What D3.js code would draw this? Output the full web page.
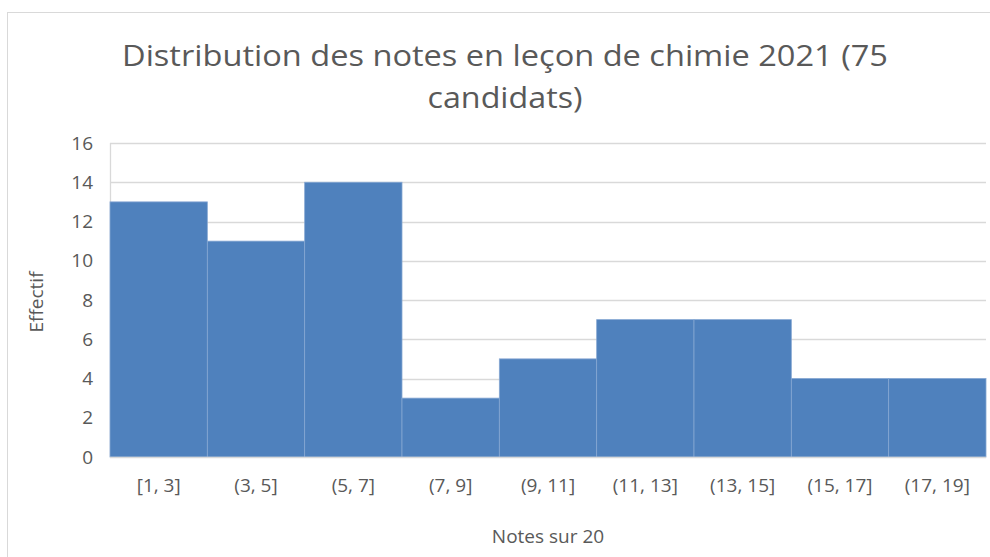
<!DOCTYPE html>
<html><head><meta charset="utf-8">
<script src="https://cdn.jsdelivr.net/npm/d3@7"></script>
<style>body{margin:0;background:#fff}svg{display:block}</style>
</head><body>
<svg id="c" width="990" height="557"></svg>
<script>
const categories = ["[1, 3]","(3, 5]","(5, 7]","(7, 9]","(9, 11]","(11, 13]","(13, 15]","(15, 17]","(17, 19]"];
const values = [13, 11, 14, 3, 5, 7, 7, 4, 4];
const yTicks = [0, 2, 4, 6, 8, 10, 12, 14, 16];
const titleLines = ["Distribution des notes en leçon de chimie 2021 (75", "candidats)"];
const xTitle = "Notes sur 20";
const yTitle = "Effectif";

const svg = d3.select("#c");
const font = "'Open Sans', 'Liberation Sans', sans-serif";
const textColor = "#595959";
const m = {left:110, right:986, top:143, bottom:457};

svg.append("rect").attr("x",7.5).attr("y",12.5).attr("width",1000).attr("height",600)
  .attr("fill","#fff").attr("stroke","#d9d9d9");

const x = d3.scaleBand().domain(categories).range([m.left, m.right]).padding(0);
const y = d3.scaleLinear().domain([0,16]).range([m.bottom, m.top]);

// gridlines
svg.append("g").selectAll("line").data(yTicks.filter(d=>d>0)).join("line")
  .attr("x1",m.left).attr("x2",m.right)
  .attr("y1",d=>Math.round(y(d))+0.5).attr("y2",d=>Math.round(y(d))+0.5)
  .attr("stroke","#d9d9d9").attr("stroke-width",1.3);
svg.append("line").attr("x1",m.left+0.5).attr("x2",m.left+0.5).attr("y1",m.top).attr("y2",m.bottom)
  .attr("stroke","#d9d9d9").attr("stroke-width",1.3);

// bars
svg.append("g").selectAll("rect").data(values).join("rect")
  .attr("x",(d,i)=>x(categories[i]))
  .attr("width",x.bandwidth())
  .attr("y",d=>y(d))
  .attr("height",d=>y(0)-y(d))
  .attr("fill","#4f81bd")
  .attr("stroke","#86a7d3").attr("stroke-width",0.8);

svg.append("line").attr("x1",m.left).attr("x2",m.right).attr("y1",m.bottom+0.5).attr("y2",m.bottom+0.5)
  .attr("stroke","#d9d9d9").attr("stroke-width",1.3);

// y axis labels
const yAxis = d3.axisLeft(y).tickValues(yTicks).tickSize(0).tickPadding(17);
const gy = svg.append("g").attr("transform",`translate(${m.left},0)`).call(yAxis);
gy.select(".domain").remove();
gy.selectAll("text").attr("font-family",font).attr("font-size",19).attr("fill",textColor);

// x axis labels
const xAxis = d3.axisBottom(x).tickSize(0).tickPadding(22);
const gx = svg.append("g").attr("transform",`translate(0,${m.bottom})`).call(xAxis);
gx.select(".domain").remove();
gx.selectAll("text").attr("font-family",font).attr("font-size",19).attr("fill",textColor);

// title
const titleWidths = [766, 155];
svg.append("g").selectAll("text").data(titleLines).join("text")
  .attr("x",505).attr("y",(d,i)=>66+i*42)
  .attr("text-anchor","middle")
  .attr("font-family",font).attr("font-size",29).attr("fill",textColor)
  .attr("textLength",(d,i)=>titleWidths[i]).attr("lengthAdjust","spacingAndGlyphs")
  .text(d=>d);

svg.append("text").attr("x",548).attr("y",543).attr("text-anchor","middle")
  .attr("font-family",font).attr("font-size",19).attr("fill",textColor).text(xTitle);

svg.append("text").attr("transform","translate(43,302) rotate(-90)").attr("text-anchor","middle")
  .attr("font-family",font).attr("font-size",19).attr("fill",textColor).text(yTitle);
</script>
</body></html>
